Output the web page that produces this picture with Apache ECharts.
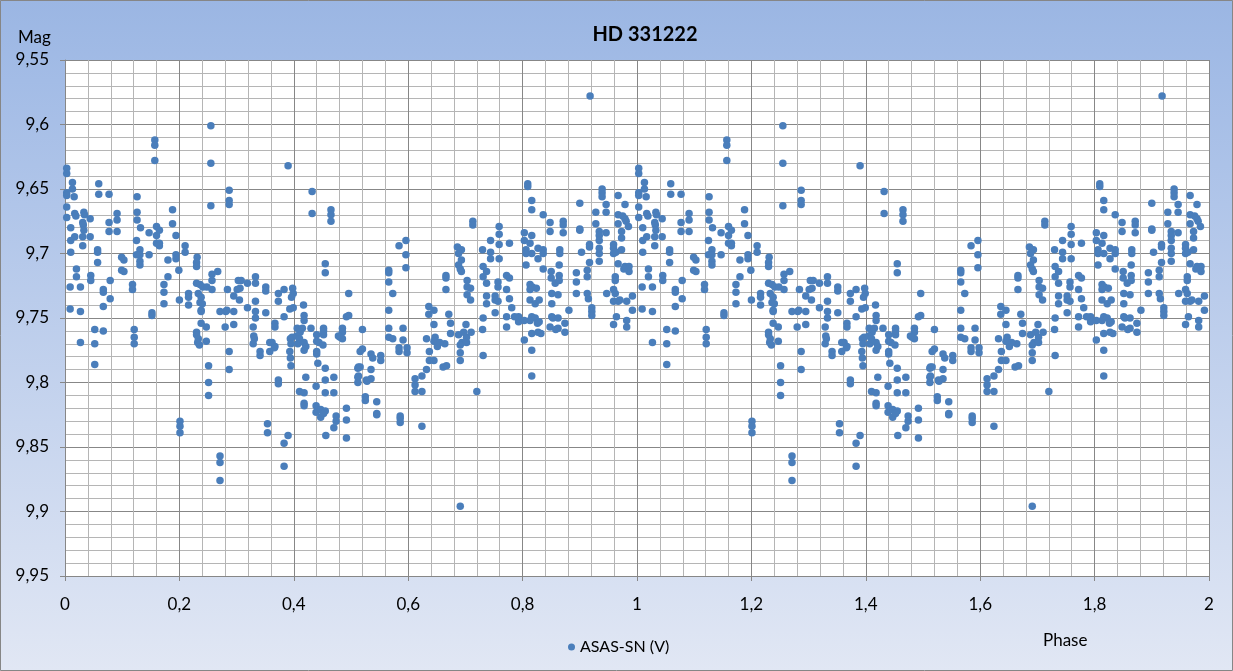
<!DOCTYPE html>
<html>
<head>
<meta charset="utf-8">
<script src="https://cdn.jsdelivr.net/npm/echarts@6/dist/echarts.min.js"></script>
<style>
html,body{margin:0;padding:0;background:#fff;}
#chart{width:1233px;height:671px;}
</style>
</head>
<body>
<div id="chart"></div>
<script>
// Observations folded on one phase cycle: [phase, magnitude]
const observations = [
[0.003,9.634],[0.003,9.638],[0.013,9.645],[0.013,9.650],[0.003,9.653],[0.003,9.655],[0.016,9.656],[0.003,9.664],[0.003,9.672],[0.017,9.669],[0.019,9.671],[0.033,9.668],[0.034,9.670],[0.044,9.673],[0.031,9.676],[0.032,9.678],[0.010,9.680],[0.033,9.682],[0.031,9.687],[0.044,9.687],[0.017,9.687],[0.010,9.690],[0.031,9.694],[0.010,9.699],[0.059,9.646],[0.059,9.654],[0.077,9.654],[0.091,9.669],[0.091,9.674],[0.077,9.676],[0.077,9.683],[0.091,9.683],[0.057,9.697],[0.057,9.699],[0.057,9.707],[0.020,9.712],[0.020,9.718],[0.009,9.726],[0.027,9.726],[0.045,9.717],[0.045,9.721],[0.079,9.721],[0.067,9.728],[0.067,9.730],[0.079,9.735],[0.067,9.741],[0.009,9.743],[0.027,9.745],[0.052,9.759],[0.067,9.760],[0.027,9.769],[0.052,9.770],[0.052,9.786],[0.099,9.703],[0.103,9.705],[0.099,9.713],[0.103,9.714],
[0.126,9.656],[0.126,9.668],[0.126,9.674],[0.132,9.680],[0.125,9.690],[0.131,9.697],[0.131,9.701],[0.131,9.706],[0.131,9.709],[0.125,9.701],[0.147,9.684],[0.147,9.701],[0.160,9.679],[0.160,9.686],[0.165,9.682],[0.160,9.692],[0.165,9.692],[0.165,9.694],[0.157,9.612],[0.157,9.616],[0.157,9.628],[0.118,9.724],[0.118,9.728],[0.173,9.724],[0.173,9.730],[0.173,9.739],[0.180,9.705],[0.180,9.718],[0.188,9.666],[0.188,9.677],[0.194,9.686],[0.194,9.701],[0.194,9.704],[0.199,9.713],[0.200,9.736],[0.152,9.746],[0.152,9.748],[0.121,9.759],[0.121,9.765],[0.121,9.770],
[0.201,9.830],[0.201,9.834],[0.201,9.839],[0.210,9.694],[0.210,9.699],[0.216,9.731],[0.216,9.734],[0.216,9.740],[0.231,9.703],[0.230,9.707],[0.230,9.710],[0.230,9.723],[0.236,9.724],[0.241,9.726],[0.257,9.716],[0.257,9.721],[0.267,9.714],[0.248,9.726],[0.257,9.728],[0.233,9.731],[0.238,9.734],[0.236,9.738],[0.240,9.739],[0.238,9.744],[0.238,9.745],[0.238,9.754],[0.247,9.757],[0.230,9.761],[0.230,9.763],[0.233,9.766],[0.232,9.769],[0.235,9.771],[0.247,9.768],[0.255,9.601],[0.255,9.630],[0.255,9.663],[0.287,9.651],[0.287,9.659],[0.287,9.662],[0.284,9.728],[0.271,9.745],[0.281,9.745],[0.283,9.744],[0.295,9.733],[0.295,9.745],[0.280,9.757],[0.295,9.755],[0.251,9.787],[0.251,9.800],[0.251,9.810],[0.271,9.857],[0.271,9.862],[0.271,9.876],[0.287,9.776],[0.287,9.790],
[0.303,9.721],[0.308,9.721],[0.306,9.727],[0.301,9.728],[0.305,9.736],[0.319,9.723],[0.319,9.742],[0.333,9.718],[0.333,9.723],[0.333,9.737],[0.333,9.745],[0.333,9.750],[0.351,9.726],[0.351,9.729],[0.351,9.746],[0.329,9.757],[0.330,9.764],[0.331,9.766],[0.329,9.770],[0.367,9.754],[0.367,9.757],[0.362,9.769],[0.367,9.772],[0.373,9.731],[0.373,9.737],[0.383,9.728],[0.383,9.749],[0.398,9.727],[0.399,9.731],[0.396,9.734],[0.399,9.742],[0.393,9.743],[0.341,9.776],[0.341,9.779],[0.358,9.769],[0.358,9.776],[0.366,9.773],[0.373,9.798],[0.373,9.801],[0.354,9.832],[0.354,9.839],[0.390,9.841],[0.383,9.847],[0.383,9.865],[0.390,9.632],[0.394,9.766],[0.395,9.770],[0.393,9.776],[0.394,9.781],[0.395,9.787],
[0.432,9.652],[0.432,9.669],[0.465,9.666],[0.465,9.670],[0.465,9.675],[0.455,9.708],[0.455,9.715],[0.417,9.740],[0.418,9.748],[0.418,9.752],[0.406,9.758],[0.415,9.758],[0.411,9.761],[0.397,9.765],[0.405,9.764],[0.407,9.770],[0.418,9.769],[0.410,9.766],[0.418,9.775],[0.421,9.772],[0.430,9.758],[0.440,9.763],[0.452,9.758],[0.452,9.763],[0.440,9.768],[0.440,9.776],[0.440,9.778],[0.452,9.760],[0.485,9.758],[0.485,9.761],[0.481,9.765],[0.485,9.766],[0.478,9.764],[0.496,9.748],[0.492,9.749],[0.496,9.731],[0.444,9.769],[0.451,9.771],[0.442,9.785],[0.455,9.789],[0.421,9.796],[0.410,9.807],[0.418,9.808],[0.418,9.816],[0.418,9.818],[0.439,9.803],[0.455,9.798],[0.455,9.808],[0.470,9.808],[0.470,9.796],[0.439,9.818],[0.439,9.823],[0.447,9.821],[0.447,9.827],[0.455,9.822],[0.452,9.824],[0.474,9.826],[0.474,9.830],[0.470,9.835],[0.456,9.841],[0.492,9.820],[0.492,9.829],[0.492,9.843],
[0.520,9.759],[0.520,9.774],[0.512,9.789],[0.512,9.796],[0.512,9.800],[0.516,9.776],[0.535,9.778],[0.538,9.781],[0.552,9.779],[0.552,9.783],[0.513,9.788],[0.516,9.788],[0.513,9.795],[0.528,9.799],[0.535,9.790],[0.535,9.797],[0.527,9.798],[0.525,9.811],[0.525,9.814],[0.545,9.815],[0.545,9.824],[0.545,9.825],[0.586,9.826],[0.586,9.828],[0.586,9.831],[0.566,9.713],[0.566,9.715],[0.566,9.722],[0.573,9.731],[0.566,9.744],[0.566,9.758],[0.566,9.765],[0.573,9.766],[0.591,9.758],[0.591,9.767],[0.584,9.694],[0.596,9.690],[0.596,9.701],[0.596,9.711],[0.598,9.773],[0.584,9.776],[0.598,9.777],[0.584,9.773],
[0.636,9.741],[0.636,9.747],[0.645,9.744],[0.645,9.755],[0.647,9.765],[0.651,9.769],[0.664,9.770],[0.632,9.766],[0.666,9.717],[0.666,9.719],[0.666,9.728],[0.671,9.747],[0.674,9.754],[0.674,9.762],[0.688,9.763],[0.694,9.769],[0.612,9.797],[0.624,9.795],[0.612,9.802],[0.612,9.807],[0.624,9.807],[0.632,9.790],[0.637,9.776],[0.637,9.783],[0.645,9.783],[0.651,9.772],[0.645,9.768],[0.655,9.769],[0.661,9.788],[0.667,9.787],[0.624,9.834],[0.691,9.896],[0.686,9.695],[0.693,9.697],[0.688,9.700],[0.693,9.705],[0.688,9.709],[0.691,9.712],[0.693,9.714],
[0.703,9.721],[0.703,9.726],[0.709,9.727],[0.703,9.732],[0.709,9.736],[0.713,9.675],[0.713,9.678],[0.730,9.697],[0.731,9.710],[0.731,9.718],[0.737,9.714],[0.737,9.723],[0.737,9.733],[0.737,9.739],[0.731,9.750],[0.730,9.759],[0.731,9.779],[0.744,9.690],[0.744,9.699],[0.744,9.704],[0.759,9.679],[0.759,9.685],[0.759,9.693],[0.759,9.704],[0.752,9.733],[0.752,9.736],[0.757,9.722],[0.757,9.726],[0.752,9.746],[0.757,9.737],[0.772,9.717],[0.777,9.719],[0.772,9.728],[0.777,9.735],[0.781,9.742],[0.772,9.749],[0.772,9.757],[0.777,9.692],[0.793,9.749],[0.793,9.753],[0.786,9.749],[0.701,9.755],[0.702,9.765],[0.702,9.769],[0.697,9.761],[0.710,9.761],[0.720,9.807],[0.691,9.771],[0.691,9.777],[0.691,9.783],
[0.803,9.684],[0.803,9.690],[0.806,9.697],[0.806,9.700],[0.816,9.686],[0.813,9.692],[0.816,9.700],[0.806,9.709],[0.809,9.646],[0.809,9.648],[0.816,9.659],[0.816,9.666],[0.836,9.670],[0.827,9.696],[0.836,9.697],[0.836,9.700],[0.827,9.704],[0.836,9.712],[0.813,9.724],[0.817,9.726],[0.824,9.727],[0.813,9.728],[0.813,9.736],[0.822,9.739],[0.829,9.736],[0.816,9.749],[0.822,9.750],[0.813,9.752],[0.826,9.754],[0.816,9.762],[0.827,9.761],[0.848,9.676],[0.848,9.683],[0.871,9.675],[0.871,9.678],[0.871,9.684],[0.865,9.697],[0.865,9.700],[0.864,9.709],[0.850,9.714],[0.850,9.719],[0.857,9.723],[0.864,9.717],[0.864,9.721],[0.862,9.732],[0.851,9.731],[0.851,9.739],[0.851,9.749],[0.853,9.750],[0.848,9.757],[0.862,9.750],[0.862,9.758],[0.874,9.754],[0.874,9.761],[0.881,9.744],[0.900,9.661],[0.816,9.775],[0.816,9.795],[0.803,9.767],[0.832,9.762],[0.829,9.753],[0.858,9.759],[0.803,9.752],
[0.900,9.681],[0.900,9.682],[0.903,9.699],[0.894,9.715],[0.894,9.722],[0.894,9.731],[0.917,9.693],[0.917,9.695],[0.917,9.707],[0.913,9.713],[0.913,9.718],[0.913,9.731],[0.915,9.735],[0.921,9.742],[0.921,9.745],[0.921,9.748],[0.918,9.578],[0.928,9.668],[0.928,9.677],[0.939,9.650],[0.939,9.653],[0.939,9.656],[0.946,9.662],[0.946,9.668],[0.934,9.683],[0.934,9.686],[0.946,9.684],[0.934,9.690],[0.934,9.696],[0.934,9.700],[0.934,9.706],[0.947,9.731],[0.967,9.655],[0.967,9.670],[0.967,9.677],[0.973,9.683],[0.973,9.688],[0.959,9.693],[0.959,9.696],[0.959,9.700],[0.963,9.699],[0.973,9.697],[0.962,9.718],[0.962,9.721],[0.959,9.728],[0.962,9.731],[0.959,9.737],[0.967,9.737],[0.964,9.749],[0.959,9.755],[0.979,9.662],[0.979,9.673],[0.981,9.675],[0.985,9.679],[0.979,9.710],[0.986,9.710],[0.986,9.714],[0.982,9.737],[0.982,9.752],[0.982,9.757],[0.992,9.733],[0.992,9.744],[0.967,9.708],[0.975,9.671],[0.977,9.712],[0.970,9.736]
];
const seriesName = 'ASAS-SN (V)';
const chartTitle = 'HD 331222';
const yAxisTitle = 'Mag';
const xAxisTitle = 'Phase';
const yTicks = [9.55, 9.6, 9.65, 9.7, 9.75, 9.8, 9.85, 9.9, 9.95];
const xTicks = [0, 0.2, 0.4, 0.6, 0.8, 1, 1.2, 1.4, 1.6, 1.8, 2];

// phase diagram shows two cycles: the same observations at phase and phase + 1
const plotted = observations.concat(observations.map(o => [o[0] + 1, o[1]]));

const fmt = v => String(Math.round(v * 100) / 100).replace('.', ',');
const FONT = 'Lato, "Liberation Sans", sans-serif';
const major = '#878787', minor = '#b5b5b5';

const chart = echarts.init(document.getElementById('chart'));
chart.setOption({
  backgroundColor: {
    type: 'linear', x: 0, y: 0, x2: 0, y2: 1,
    colorStops: [{offset: 0, color: '#9bb6e3'}, {offset: 0.12, color: '#a3bce6'}, {offset: 1, color: '#e1e7f4'}]
  },
  animation: false,
  title: {
    text: chartTitle, left: 640, top: 20, textAlign: 'center',
    textStyle: {fontFamily: FONT, fontSize: 20, fontWeight: 'bold', color: '#000'}
  },
  legend: {
    data: [seriesName], left: 563, top: 634, icon: 'circle', itemWidth: 7, itemHeight: 7, itemGap: 5,
    textStyle: {fontFamily: FONT, fontSize: 16, color: '#000'}
  },
  grid: {left: 65, right: 24, top: 60, bottom: 95, show: true, backgroundColor: '#fff', borderWidth: 0},
  xAxis: {
    type: 'value', min: xTicks[0], max: xTicks[xTicks.length - 1], interval: 0.2,
    axisLine: {show: true, lineStyle: {color: major}},
    axisTick: {show: true, length: 5, lineStyle: {color: major}},
    axisLabel: {formatter: fmt, margin: 20, fontFamily: FONT, fontSize: 17, color: '#000'},
    splitLine: {show: true, lineStyle: {color: major}},
    minorTick: {show: false, splitNumber: 5},
    minorSplitLine: {show: true, lineStyle: {color: minor}}
  },
  yAxis: {
    type: 'value', inverse: true, min: yTicks[0], max: yTicks[yTicks.length - 1], interval: 0.05,
    axisLine: {show: true, lineStyle: {color: major}},
    axisTick: {show: true, length: 5, lineStyle: {color: major}},
    axisLabel: {formatter: fmt, margin: 16, fontFamily: FONT, fontSize: 17, color: '#000'},
    splitLine: {show: true, lineStyle: {color: major}},
    minorTick: {show: false, splitNumber: 5},
    minorSplitLine: {show: true, lineStyle: {color: minor}}
  },
  graphic: [
    {type: 'text', left: 18, top: 29, style: {text: yAxisTitle, font: '17px ' + FONT, fill: '#000'}},
    {type: 'text', left: 1043, top: 632, style: {text: xAxisTitle, font: '17px ' + FONT, fill: '#000'}},
    {type: 'rect', shape: {x: 0.5, y: 0.5, width: 1232, height: 670}, style: {fill: 'none', stroke: '#868686', lineWidth: 1}, silent: true}
  ],
  series: [{
    name: seriesName, type: 'scatter', data: plotted, symbolSize: 7.5, clip: false,
    itemStyle: {color: '#4a7ebb', opacity: 1}
  }]
});
</script>
</body>
</html>
